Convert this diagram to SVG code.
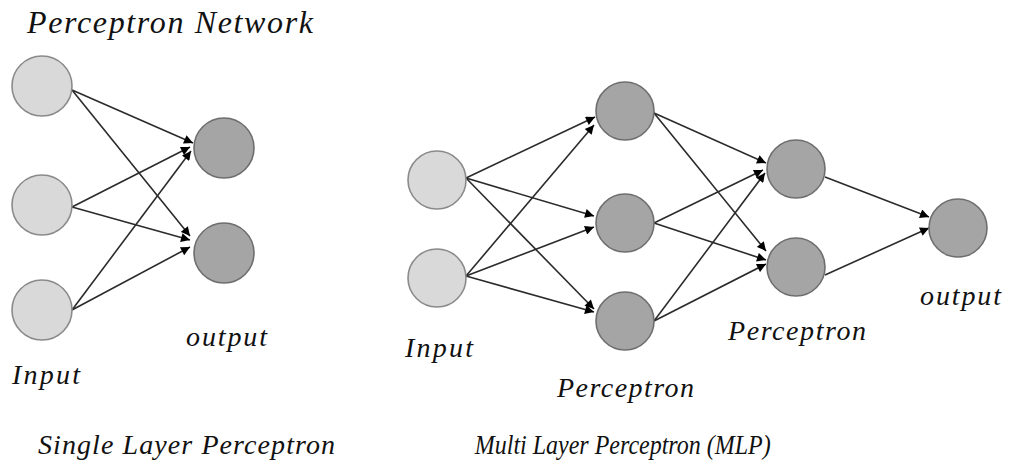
<svg xmlns="http://www.w3.org/2000/svg" width="1010" height="466" viewBox="0 0 1010 466">
  <style>
    .in { fill: #d9d9d9; stroke: #8a8a8a; stroke-width: 1.6; }
    .pe { fill: #a5a5a5; stroke: #6e6e6e; stroke-width: 1.6; }
    .edge { stroke: #2b2b2b; stroke-width: 1.6; fill: none; marker-end: url(#arrow); }
    .lbl { font-family: "Liberation Serif", serif; font-style: italic; fill: #111; }
  </style>
  <defs>
    <marker id="arrow" viewBox="0 0 10 10" refX="10" refY="5" markerWidth="11" markerHeight="9" markerUnits="userSpaceOnUse" orient="auto">
      <path d="M0,0 L10,5 L0,10 z" fill="#000"/>
    </marker>
  </defs>
  <rect width="1010" height="466" fill="#fff"/>

  <!-- connectors -->
  <g id="connectors">
    <!-- single layer -->
    <line class="edge" x1="72" y1="90" x2="193" y2="143"/>
    <line class="edge" x1="72" y1="90" x2="190" y2="236"/>
    <line class="edge" x1="72" y1="207" x2="190" y2="147"/>
    <line class="edge" x1="72" y1="207" x2="190" y2="240"/>
    <line class="edge" x1="72" y1="310" x2="191" y2="151"/>
    <line class="edge" x1="72" y1="310" x2="190" y2="247"/>
    <!-- multi layer: input to hidden 1 -->
    <line class="edge" x1="466" y1="178" x2="595" y2="117"/>
    <line class="edge" x1="466" y1="178" x2="594" y2="216"/>
    <line class="edge" x1="466" y1="178" x2="594" y2="309"/>
    <line class="edge" x1="466" y1="276" x2="594" y2="125"/>
    <line class="edge" x1="466" y1="276" x2="594" y2="227"/>
    <line class="edge" x1="466" y1="276" x2="594" y2="312"/>
    <!-- hidden 1 to hidden 2 -->
    <line class="edge" x1="654" y1="113" x2="766" y2="163"/>
    <line class="edge" x1="654" y1="113" x2="766" y2="251"/>
    <line class="edge" x1="654" y1="223" x2="763" y2="170"/>
    <line class="edge" x1="654" y1="223" x2="766" y2="260"/>
    <line class="edge" x1="654" y1="321" x2="765" y2="173"/>
    <line class="edge" x1="654" y1="321" x2="766" y2="264"/>
    <!-- hidden 2 to output -->
    <line class="edge" x1="825" y1="177" x2="929" y2="217"/>
    <line class="edge" x1="825" y1="275" x2="929" y2="228"/>
  </g>

  <!-- single layer perceptron nodes -->
  <g id="slp-in-1"><circle class="in" cx="42" cy="86" r="30"/></g>
  <g id="slp-in-2"><circle class="in" cx="42" cy="205" r="30"/></g>
  <g id="slp-in-3"><circle class="in" cx="42" cy="310" r="30"/></g>
  <g id="slp-out-1"><circle class="pe" cx="224" cy="148" r="30"/></g>
  <g id="slp-out-2"><circle class="pe" cx="224" cy="253" r="30"/></g>

  <!-- multi layer perceptron nodes -->
  <g id="mlp-in-1"><circle class="in" cx="437" cy="180" r="29"/></g>
  <g id="mlp-in-2"><circle class="in" cx="437" cy="278" r="29"/></g>
  <g id="mlp-h1-1"><circle class="pe" cx="625" cy="111" r="29"/></g>
  <g id="mlp-h1-2"><circle class="pe" cx="625" cy="223" r="29"/></g>
  <g id="mlp-h1-3"><circle class="pe" cx="625" cy="321" r="29"/></g>
  <g id="mlp-h2-1"><circle class="pe" cx="796" cy="169" r="29"/></g>
  <g id="mlp-h2-2"><circle class="pe" cx="796" cy="267" r="29"/></g>
  <g id="mlp-out"><circle class="pe" cx="958" cy="228" r="29"/></g>

  <!-- labels -->
  <g id="labels">
    <text class="lbl" x="27" y="33" font-size="32" textLength="286" lengthAdjust="spacing">Perceptron Network</text>
    <text class="lbl" x="186" y="346" font-size="28" textLength="81" lengthAdjust="spacing">output</text>
    <text class="lbl" x="12" y="384" font-size="28" textLength="68" lengthAdjust="spacing">Input</text>
    <text class="lbl" x="405" y="357" font-size="28" textLength="68" lengthAdjust="spacing">Input</text>
    <text class="lbl" x="557" y="397" font-size="28" textLength="137" lengthAdjust="spacing">Perceptron</text>
    <text class="lbl" x="728" y="340" font-size="28" textLength="138" lengthAdjust="spacing">Perceptron</text>
    <text class="lbl" x="920" y="305" font-size="28" textLength="81" lengthAdjust="spacing">output</text>
    <text class="lbl" x="38" y="454" font-size="28" textLength="297" lengthAdjust="spacing">Single Layer Perceptron</text>
    <text class="lbl" x="554" y="454" font-size="28" transform="scale(0.857,1)">Multi Layer Perceptron (MLP)</text>
  </g>
</svg>
